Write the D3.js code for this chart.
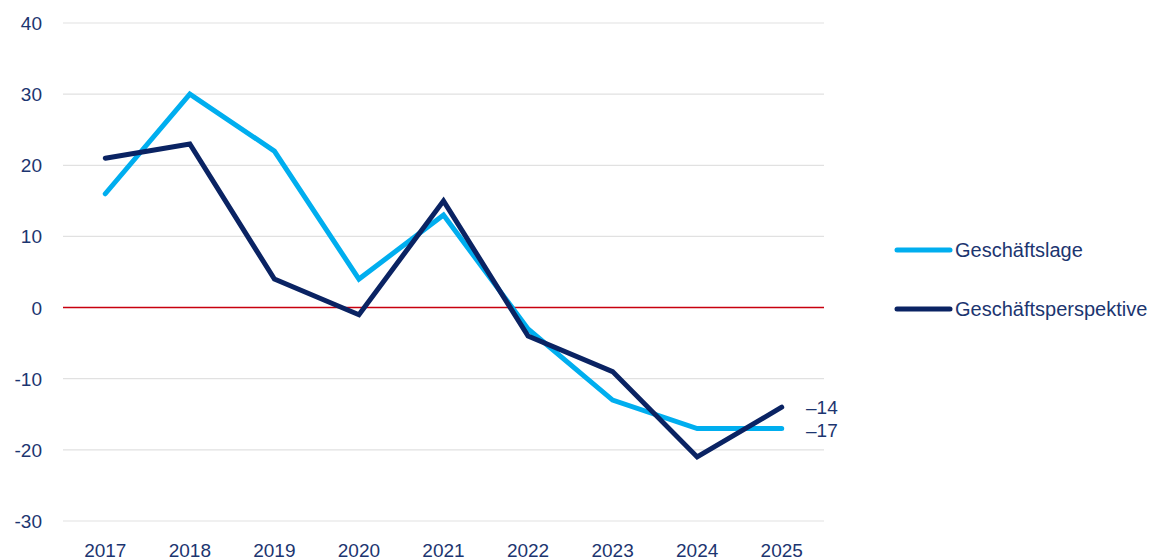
<html>
<head>
<script src="https://d3js.org/d3.v7.min.js"></script>
<style>
  body { margin: 0; background: #fff; }
  text { font-family: "Liberation Sans", Arial, sans-serif; fill: #1c3570; }
</style>
</head>
<body>
<script>
// data
var years = ["2017", "2018", "2019", "2020", "2021", "2022", "2023", "2024", "2025"];
var lage = [16, 30, 22, 4, 13, -3, -13, -17, -17];
var perspektive = [21, 23, 4, -1, 15, -4, -9, -21, -14];
var seriesNames = ["Geschäftslage", "Geschäftsperspektive"];
var yTicks = [40, 30, 20, 10, 0, -10, -20, -30];

var width = 1153, height = 560;
var colors = ["#00aeef", "#0a2363"];

var svg = d3.select("body").append("svg")
    .attr("width", width)
    .attr("height", height);

var x = d3.scalePoint().domain(years).range([63, 824]).padding(0.5);
var y = d3.scaleLinear().domain([-30, 40]).range([521, 23]);

// gridlines
svg.append("g").selectAll("line")
    .data(yTicks.filter(function (d) { return d !== 0; }))
    .enter().append("line")
    .attr("x1", 63).attr("x2", 824)
    .attr("y1", function (d) { return y(d); })
    .attr("y2", function (d) { return y(d); })
    .attr("stroke", "#e1e1e1")
    .attr("stroke-width", 1.2);

// zero line
svg.append("line")
    .attr("x1", 63).attr("x2", 824)
    .attr("y1", y(0)).attr("y2", y(0))
    .attr("stroke", "#c8000f")
    .attr("stroke-width", 1.5);

// y labels
svg.append("g").selectAll("text")
    .data(yTicks)
    .enter().append("text")
    .attr("x", 42)
    .attr("y", function (d) { return y(d) + 7; })
    .attr("text-anchor", "end")
    .style("font-size", "19px")
    .text(function (d) { return d; });

// x labels
svg.append("g").selectAll("text")
    .data(years)
    .enter().append("text")
    .attr("x", function (d) { return x(d); })
    .attr("y", 557)
    .attr("text-anchor", "middle")
    .style("font-size", "19px")
    .text(function (d) { return d; });

var line = d3.line()
    .x(function (d, i) { return x(years[i]); })
    .y(function (d) { return y(d); });

[lage, perspektive].forEach(function (s, k) {
    svg.append("path")
        .datum(s)
        .attr("d", line)
        .attr("fill", "none")
        .attr("stroke", colors[k])
        .attr("stroke-width", 5)
        .attr("stroke-linejoin", "miter")
        .attr("stroke-linecap", "round");
});

// end labels
svg.append("text")
    .attr("x", 806).attr("y", y(perspektive[8]) + 7)
    .style("font-size", "19px")
    .text("\u2013" + Math.abs(perspektive[8]));
svg.append("text")
    .attr("x", 806).attr("y", y(lage[8]) + 8)
    .style("font-size", "19px")
    .text("\u2013" + Math.abs(lage[8]));

// legend
var legend = svg.append("g").selectAll("g")
    .data(seriesNames)
    .enter().append("g")
    .attr("transform", function (d, i) { return "translate(0," + (250 + i * 59) + ")"; });
legend.append("line")
    .attr("x1", 897).attr("x2", 950)
    .attr("stroke", function (d, i) { return colors[i]; })
    .attr("stroke-width", 5)
    .attr("stroke-linecap", "round");
legend.append("text")
    .attr("x", 955).attr("y", 7)
    .style("font-size", "20px")
    .text(function (d) { return d; });
</script>
</body>
</html>
